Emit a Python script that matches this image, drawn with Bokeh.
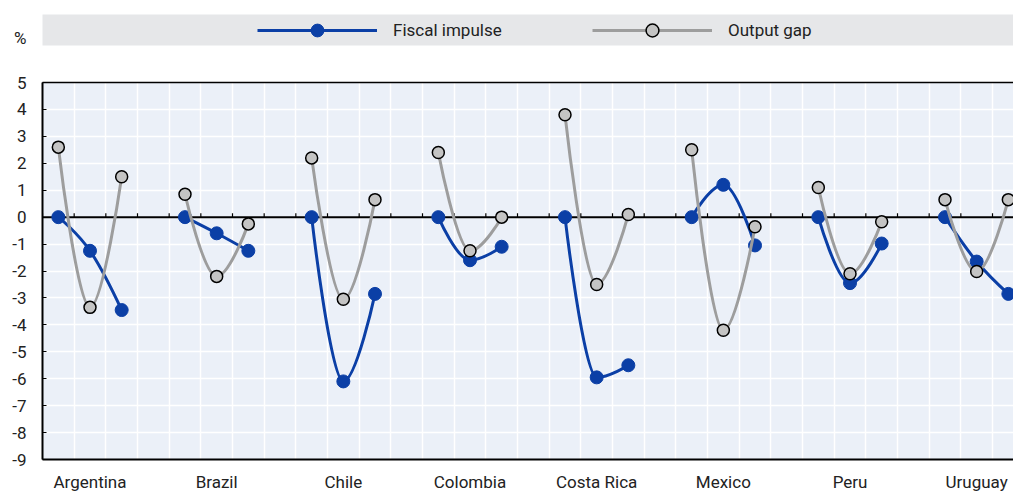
from bokeh.plotting import figure
from bokeh.models import Range1d, FixedTicker, LinearAxis, Legend, LegendItem, Span
from bokeh.layouts import column
from bokeh.embed import file_html
from bokeh.resources import INLINE

# ---------------- data ----------------
countries = ["Argentina", "Brazil", "Chile", "Colombia", "Costa Rica", "Mexico", "Peru", "Uruguay"]
points_per_country = 3
# three observations per country, in country order
fiscal_impulse = [0.0, -1.25, -3.45,
                  0.0, -0.6, -1.25,
                  0.0, -6.1, -2.85,
                  0.0, -1.6, -1.1,
                  0.0, -5.95, -5.5,
                  0.0, 1.2, -1.05,
                  0.0, -2.45, -0.98,
                  0.0, -1.65, -2.85]
output_gap = [2.6, -3.35, 1.5,
              0.85, -2.2, -0.25,
              2.2, -3.05, 0.65,
              2.4, -1.25, 0.0,
              3.8, -2.5, 0.1,
              2.5, -4.2, -0.36,
              1.1, -2.1, -0.17,
              0.65, -2.02, 0.65]
y_ticks = list(range(-9, 6))
unit_label = "%"

# ---------------- styles ----------------
FONT = "Roboto"
BLUE = "#0B3FA6"
GRAY_LINE = "#9D9D9D"
GRAY_FILL = "#C4C4C4"
TEXT = "#222222"
W = 1013
FRAME_L = 42
PX_PER_UNIT = 27.0
SLOT_PX = 31.667
UNIT_LABEL_POS = 0.24   # vertical place of the "%" inside the legend band (0 = bottom, 1 = top)

# x positions: each country occupies 3 slots followed by a gap slot
step = points_per_country + 1
xs = [ci * step + j for ci in range(len(countries)) for j in range(points_per_country)]
label_pos = [ci * step + (points_per_country - 1) / 2 for ci in range(len(countries))]
grid_x = [g + 0.5 for g in range(-1, len(countries) * step)]


def spline(x, y, n):
    """Smooth spline (Highcharts-like) through each group of n points -> bezier segments."""
    seg = dict(x0=[], y0=[], x1=[], y1=[], cx0=[], cy0=[], cx1=[], cy1=[])
    s, d = 1.5, 2.5
    for g in range(0, len(x), n):
        gx, gy = x[g:g + n], y[g:g + n]
        left = [None] * n
        right = [None] * n
        for i in range(1, n - 1):
            px, py = gx[i], gy[i]
            lx, ly, nx, ny = gx[i - 1], gy[i - 1], gx[i + 1], gy[i + 1]
            lcx, lcy = (s * px + lx) / d, (s * py + ly) / d
            rcx, rcy = (s * px + nx) / d, (s * py + ny) / d
            corr = 0.0
            if rcx != lcx:
                corr = (rcy - lcy) * (rcx - px) / (rcx - lcx) + py - rcy
            lcy += corr
            rcy += corr
            if lcy > ly and lcy > py:
                lcy = max(ly, py); rcy = 2 * py - lcy
            elif lcy < ly and lcy < py:
                lcy = min(ly, py); rcy = 2 * py - lcy
            if rcy > ny and rcy > py:
                rcy = max(ny, py); lcy = 2 * py - rcy
            elif rcy < ny and rcy < py:
                rcy = min(ny, py); lcy = 2 * py - rcy
            left[i] = (lcx, lcy)
            right[i] = (rcx, rcy)
        for i in range(1, n):
            a = right[i - 1] if right[i - 1] else (gx[i - 1], gy[i - 1])
            b = left[i] if left[i] else (gx[i], gy[i])
            seg["x0"].append(gx[i - 1]); seg["y0"].append(gy[i - 1])
            seg["x1"].append(gx[i]); seg["y1"].append(gy[i])
            seg["cx0"].append(a[0]); seg["cy0"].append(a[1])
            seg["cx1"].append(b[0]); seg["cy1"].append(b[1])
    return seg


# ---------------- legend band (top figure) ----------------
# renderers in this figure only feed the legend; the visible range lies away from the data
top = figure(width=W, height=60, x_range=Range1d(1000, 1001), y_range=Range1d(0, 1),
             output_backend="svg", toolbar_location=None,
             min_border_left=FRAME_L, min_border_right=0, min_border_top=14, min_border_bottom=15,
             background_fill_color="#E6E7E9", outline_line_color=None,
             x_axis_type=None, y_axis_type=None)
top.grid.visible = False

lf = top.line(xs, fiscal_impulse, line_color=BLUE, line_width=3)
mf = top.scatter(xs, fiscal_impulse, size=13, fill_color=BLUE, line_color=BLUE)
lo = top.line(xs, output_gap, line_color=GRAY_LINE, line_width=3)
mo = top.scatter(xs, output_gap, size=12, fill_color=GRAY_FILL, line_color="black", line_width=1.5)

legend = Legend(items=[LegendItem(label="Fiscal impulse", renderers=[lf, mf]),
                       LegendItem(label="Output gap", renderers=[lo, mo])],
                orientation="horizontal", location=(215, -1),
                glyph_width=120, glyph_height=32, label_height=32,
                label_standoff=16, label_width=150, spacing=49,
                padding=0, margin=0,
                background_fill_alpha=0, border_line_alpha=0,
                label_text_font=FONT, label_text_font_size="17px",
                label_text_color=TEXT, label_text_baseline="middle")
top.add_layout(legend)

pct_axis = LinearAxis(ticker=FixedTicker(ticks=[UNIT_LABEL_POS]),
                      major_label_overrides={UNIT_LABEL_POS: unit_label},
                      axis_line_color=None, major_tick_line_color=None, minor_tick_line_color=None,
                      major_tick_out=0, major_tick_in=0, major_label_standoff=16,
                      major_label_text_font=FONT, major_label_text_font_size="17px",
                      major_label_text_color=TEXT)
top.add_layout(pct_axis, "left")

# ---------------- main chart ----------------
x_end = -0.5 + (W - FRAME_L) / SLOT_PX
p = figure(width=W, height=434, x_range=Range1d(-0.5, x_end), y_range=Range1d(-9, 5),
           output_backend="svg", toolbar_location=None,
           min_border_left=FRAME_L, min_border_right=0, min_border_top=22, min_border_bottom=34,
           background_fill_color="#EBF0F8", outline_line_color=None)

p.xgrid.ticker = FixedTicker(ticks=grid_x)
p.xgrid.grid_line_color = "white"
p.xgrid.grid_line_width = 1.5
p.ygrid.grid_line_color = "white"
p.ygrid.grid_line_width = 1.5

xa = p.xaxis[0]
xa.ticker = FixedTicker(ticks=label_pos)
xa.major_label_overrides = {pos: name for pos, name in zip(label_pos, countries)}
xa.major_tick_line_color = None
xa.major_tick_out = 0
xa.major_tick_in = 0
xa.minor_tick_line_color = None
xa.axis_line_color = "black"
xa.axis_line_width = 2
xa.major_label_text_font = FONT
xa.major_label_text_font_size = "17px"
xa.major_label_text_color = TEXT
xa.major_label_standoff = 12

ya = p.yaxis[0]
ya.ticker = FixedTicker(ticks=y_ticks)
ya.major_label_overrides = {t: str(t) for t in y_ticks}
ya.major_tick_in = 4
ya.major_tick_out = 0
ya.major_tick_line_color = "black"
ya.minor_tick_line_color = None
ya.axis_line_color = "black"
ya.axis_line_width = 2
ya.major_label_text_font = FONT
ya.major_label_text_font_size = "17px"
ya.major_label_text_color = TEXT
ya.major_label_standoff = 16

top_border = LinearAxis(ticker=FixedTicker(ticks=[]), axis_line_color="black", axis_line_width=1.5,
                        major_tick_line_color=None, minor_tick_line_color=None,
                        major_tick_out=0, major_tick_in=0, major_label_standoff=0)
p.add_layout(top_border, "above")

# zero line with small upward ticks at each grid position
p.add_layout(Span(location=0, dimension="width", line_color="black", line_width=2, level="underlay"))
tick_len = 4 / PX_PER_UNIT
p.segment(x0=grid_x, x1=grid_x, y0=[0] * len(grid_x), y1=[tick_len] * len(grid_x),
          line_color="black", line_width=1.2)

fs = spline(xs, fiscal_impulse, points_per_country)
p.bezier(**fs, line_color=BLUE, line_width=3, line_cap="round")
p.scatter(xs, fiscal_impulse, size=13, fill_color=BLUE, line_color=BLUE, line_width=1)

og = spline(xs, output_gap, points_per_country)
p.bezier(**og, line_color=GRAY_LINE, line_width=3, line_cap="round")
p.scatter(xs, output_gap, size=12, fill_color=GRAY_FILL, line_color="black", line_width=1.5)

layout = column(top, p)
open("out.html", "w").write(file_html(layout, INLINE))
